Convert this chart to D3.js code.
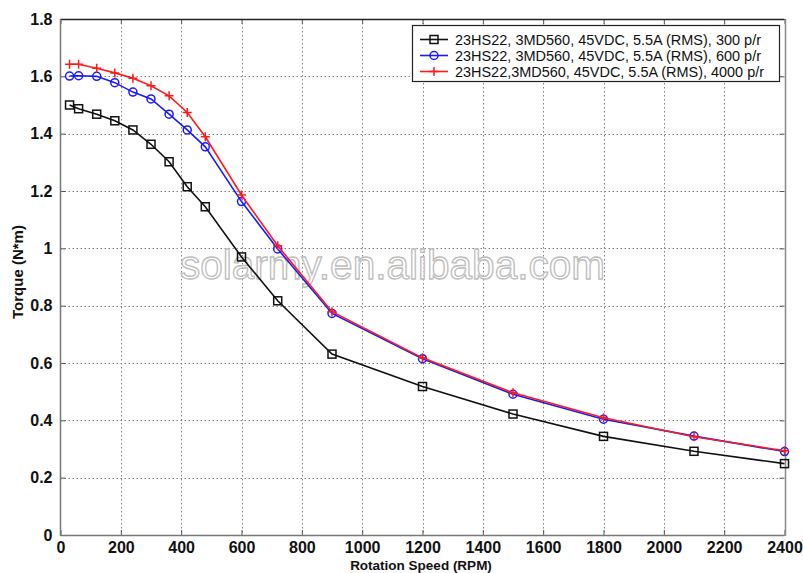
<!DOCTYPE html>
<html>
<head>
<meta charset="utf-8">
<script src="https://cdn.jsdelivr.net/npm/d3@7/dist/d3.min.js"></script>
<style>
  html, body { margin: 0; padding: 0; background: #fff; }
  svg { display: block; }
  text { font-family: "Liberation Sans", Arial, sans-serif; }
</style>
</head>
<body>
<svg id="chart" width="803" height="573"></svg>
<script>
// ---- data ----
const speeds = [30, 60, 120, 180, 240, 300, 360, 420, 480, 600, 720, 900, 1200, 1500, 1800, 2100, 2400];
const torque300 = [1.50, 1.487, 1.468, 1.445, 1.413, 1.363, 1.302, 1.215, 1.145, 0.970, 0.817, 0.631, 0.518, 0.422, 0.344, 0.292, 0.249];
const torque600 = [1.601, 1.602, 1.600, 1.578, 1.545, 1.521, 1.468, 1.413, 1.354, 1.163, 0.998, 0.773, 0.615, 0.491, 0.404, 0.345, 0.291];
const torque4000 = [1.642, 1.642, 1.628, 1.612, 1.593, 1.567, 1.532, 1.474, 1.389, 1.186, 1.009, 0.779, 0.618, 0.496, 0.409, 0.343, 0.294];
const seriesNames = [
  "23HS22, 3MD560, 45VDC, 5.5A (RMS), 300 p/r",
  "23HS22, 3MD560, 45VDC, 5.5A (RMS), 600 p/r",
  "23HS22,3MD560, 45VDC, 5.5A (RMS), 4000 p/r"
];
const xTicks = [0, 200, 400, 600, 800, 1000, 1200, 1400, 1600, 1800, 2000, 2200, 2400];
const yTicks = [0, 0.2, 0.4, 0.6, 0.8, 1, 1.2, 1.4, 1.6, 1.8];
const xLabel = "Rotation Speed (RPM)";
const yLabel = "Torque (N*m)";
const watermark = "solarmy.en.alibaba.com";

const series = [
  { name: seriesNames[0], values: torque300, color: "#111111", marker: "square" },
  { name: seriesNames[1], values: torque600, color: "#1a1aff", marker: "circle" },
  { name: seriesNames[2], values: torque4000, color: "#ff1a1a", marker: "plus" }
];

// ---- layout ----
const svg = d3.select("#chart");
const L = 60.5, R = 784.5, T = 19, B = 535;
const x = d3.scaleLinear().domain([0, 2400]).range([L, R]);
const y = d3.scaleLinear().domain([0, 1.8]).range([B, T]);

svg.append("rect").attr("width", 803).attr("height", 573).attr("fill", "#fff");

// grid
const grid = svg.append("g").attr("stroke", "#808080").attr("stroke-width", 1)
  .attr("stroke-dasharray", "1.5,2.5");
grid.selectAll("line.vx").data(xTicks.slice(1, -1)).join("line")
  .attr("x1", d => Math.round(x(d)) + 0.5).attr("x2", d => Math.round(x(d)) + 0.5)
  .attr("y1", T).attr("y2", B);
grid.selectAll("line.hy").data(yTicks.slice(1, -1)).join("line")
  .attr("y1", d => Math.round(y(d)) + 0.5).attr("y2", d => Math.round(y(d)) + 0.5)
  .attr("x1", L).attr("x2", R);

// watermark
svg.append("text")
  .attr("x", 180).attr("y", 279)
  .attr("font-size", 40)
  .attr("textLength", 425).attr("lengthAdjust", "spacingAndGlyphs")
  .attr("fill", "rgba(255,255,255,0.55)")
  .attr("stroke", "#bdbdbd").attr("stroke-width", 1.3)
  .text(watermark);

// axes
const xAxis = d3.axisBottom(x).tickValues(xTicks).tickFormat(d3.format("d"))
  .tickSizeInner(-5).tickSizeOuter(0).tickPadding(7);
const gx = svg.append("g").attr("transform", `translate(0,${B})`).call(xAxis);
const yAxis = d3.axisLeft(y).tickValues(yTicks).tickFormat(d => d3.format("~g")(d))
  .tickSizeInner(-5).tickSizeOuter(0).tickPadding(8);
const gy = svg.append("g").attr("transform", `translate(${L},0)`).call(yAxis);
[gx, gy].forEach(g => {
  g.select(".domain").remove();
  g.selectAll(".tick line").attr("stroke", "#555");
  g.selectAll(".tick text").attr("font-size", 16).attr("font-weight", "bold")
    .attr("fill", "#111").style("font-family", "'Liberation Sans', Arial, sans-serif");
});
// top and right inward ticks
const gt = svg.append("g").attr("transform", `translate(0,${T})`)
  .call(d3.axisTop(x).tickValues(xTicks).tickSizeInner(-5).tickSizeOuter(0).tickFormat(""));
const gr = svg.append("g").attr("transform", `translate(${R},0)`)
  .call(d3.axisRight(y).tickValues(yTicks).tickSizeInner(-5).tickSizeOuter(0).tickFormat(""));
[gt, gr].forEach(g => { g.select(".domain").remove(); g.selectAll(".tick line").attr("stroke", "#555"); });

// box
svg.append("line").attr("x1", L).attr("x2", R).attr("y1", T + 0.5).attr("y2", T + 0.5).attr("stroke", "#222").attr("stroke-width", 1.5);
svg.append("line").attr("x1", L).attr("x2", R).attr("y1", B + 0.5).attr("y2", B + 0.5).attr("stroke", "#777").attr("stroke-width", 1.5);
svg.append("line").attr("x1", L).attr("x2", L).attr("y1", T).attr("y2", B + 1).attr("stroke", "#777").attr("stroke-width", 1.5);
svg.append("line").attr("x1", R + 1).attr("x2", R + 1).attr("y1", T).attr("y2", B + 1).attr("stroke", "#888").attr("stroke-width", 1.5);

// axis labels
svg.append("text").attr("x", 421).attr("y", 569.5).attr("text-anchor", "middle")
  .attr("font-size", 13.5).attr("font-weight", "bold").attr("fill", "#111").text(xLabel);
svg.append("text").attr("transform", "translate(23,272) rotate(-90)").attr("text-anchor", "middle")
  .attr("font-size", 15).attr("font-weight", "bold").attr("fill", "#111").text(yLabel);

// markers
function drawMarker(g, type, cx, cy, color) {
  if (type === "square") {
    g.append("rect").attr("x", cx - 4).attr("y", cy - 4).attr("width", 8).attr("height", 8)
      .attr("fill", "none").attr("stroke", color).attr("stroke-width", 1.5);
  } else if (type === "circle") {
    g.append("circle").attr("cx", cx).attr("cy", cy).attr("r", 4)
      .attr("fill", "none").attr("stroke", color).attr("stroke-width", 1.5);
  } else {
    g.append("path").attr("d", `M${cx - 4.5},${cy}H${cx + 4.5}M${cx},${cy - 4.5}V${cy + 4.5}`)
      .attr("stroke", color).attr("stroke-width", 1.5);
  }
}

// series
const line = d3.line().x(d => x(d[0])).y(d => y(d[1]));
series.forEach(s => {
  const pts = speeds.map((v, i) => [v, s.values[i]]);
  const g = svg.append("g");
  g.append("path").attr("d", line(pts)).attr("fill", "none")
    .attr("stroke", s.color).attr("stroke-width", 1.6);
  pts.forEach(p => drawMarker(g, s.marker, x(p[0]), y(p[1]), s.color));
});

// legend
const lg = svg.append("g");
lg.append("rect").attr("x", 412.5).attr("y", 25.5).attr("width", 367).attr("height", 56)
  .attr("fill", "#fff").attr("stroke", "#222").attr("stroke-width", 1.2);
const rowY = [39.5, 55.5, 71.5];
series.forEach((s, i) => {
  const ry = rowY[i];
  lg.append("line").attr("x1", 420).attr("x2", 448).attr("y1", ry).attr("y2", ry)
    .attr("stroke", s.color).attr("stroke-width", 1.6);
  drawMarker(lg, s.marker, 434, ry, s.color);
  lg.append("text").attr("x", 455).attr("y", ry + 5)
    .attr("font-size", 14.5).attr("fill", "#111")
    .attr("textLength", i === 2 ? 309 : 306).attr("lengthAdjust", "spacingAndGlyphs")
    .text(s.name);
});
</script>
</body>
</html>
